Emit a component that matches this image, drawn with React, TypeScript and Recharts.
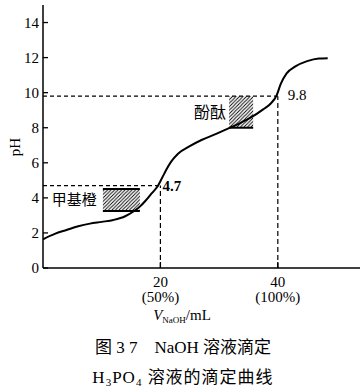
import React from 'react';
import {
  ComposedChart,
  Line,
  XAxis,
  YAxis,
  ReferenceLine,
  ReferenceArea,
  ReferenceDot,
} from 'recharts';

// NaOH volume (mL) and pH along the titration curve
const volumes = [0, 2, 4, 6, 8, 10, 12, 14, 15.4, 16.5, 17.5, 18.5, 19.5, 20.3, 21, 21.8, 23, 25, 27, 29.5, 31.5, 33.5, 35.5, 37.5, 38.8, 39.8, 40.5, 41.5, 43, 45, 47, 48.5];
const phValues = [1.64, 1.95, 2.17, 2.38, 2.53, 2.63, 2.74, 2.95, 3.22, 3.5, 3.85, 4.25, 4.65, 5.15, 5.6, 6.05, 6.52, 6.95, 7.3, 7.65, 7.95, 8.25, 8.6, 9.05, 9.38, 9.85, 10.5, 11.1, 11.5, 11.8, 11.95, 11.97];

// equivalence points
const eqVolumes = [20, 40];
const eqPH = [4.7, 9.8];
const eqLabels = ['4.7', '9.8'];

// indicator ranges
const indicatorNames = ['甲基橙', '酚酞'];
const indicatorV1 = [10.2, 31.7];
const indicatorV2 = [16.5, 35.8];
const indicatorPHLow = [3.25, 8.0];
const indicatorPHHigh = [4.5, 9.8];

const xTicks = [20, 40];
const xTickNotes = ['(50%)', '(100%)'];
const yTicks = [0, 2, 4, 6, 8, 10, 12, 14];

const data = volumes.map((v, i) => ({ v, ph: phValues[i] }));

const SERIF = '"Liberation Serif", "Times New Roman", serif';
const CJK = '"Liberation Serif", "Noto Sans CJK SC", serif';

const YTick = (props: any) => {
  const { x, y, payload } = props;
  return (
    <g>
      <line x1={x} x2={x + 5} y1={y} y2={y} stroke="#000" strokeWidth={1.3} />
      <text x={x - 4} y={y + 5} textAnchor="end" fontFamily={SERIF} fontSize={15} fill="#000">
        {payload.value}
      </text>
    </g>
  );
};

const XTick = (props: any) => {
  const { x, y, payload } = props;
  const i = xTicks.indexOf(payload.value);
  return (
    <g>
      <line x1={x} x2={x} y1={y} y2={y - 6} stroke="#000" strokeWidth={1.3} />
      <text x={x} y={y + 19} textAnchor="middle" fontFamily={SERIF} fontSize={15} fill="#000">
        {payload.value}
      </text>
      <text x={x} y={y + 34} textAnchor="middle" fontFamily={SERIF} fontSize={15} fill="#000">
        {xTickNotes[i]}
      </text>
    </g>
  );
};

const eqOffsets = [
  { dx: 2, dy: 5 },
  { dx: 10, dy: 4 },
];

export default function App() {
  return (
    <div style={{ position: 'absolute', left: 0, top: 0, background: '#fff' }}>
      <ComposedChart
        width={364}
        height={388}
        data={data}
        margin={{ top: 5, right: 4, bottom: 90, left: 0 }}
      >
        <defs>
          <pattern id="hatch" patternUnits="userSpaceOnUse" width={3.5} height={3.5}>
            <path d="M-1,1 l2,-2 M0,3.5 l3.5,-3.5 M2.5,4.5 l2,-2" stroke="#000" strokeWidth={0.9} />
          </pattern>
        </defs>
        <XAxis
          dataKey="v"
          type="number"
          domain={[0, 54]}
          ticks={xTicks}
          tick={<XTick />}
          tickSize={0}
          tickMargin={0}
          tickLine={false}
          axisLine={{ stroke: '#000', strokeWidth: 1.5 }}
          height={30}
          allowDataOverflow
        />
        <YAxis
          type="number"
          domain={[0, 15]}
          ticks={yTicks}
          tick={<YTick />}
          tickSize={0}
          tickMargin={0}
          tickLine={false}
          axisLine={{ stroke: '#000', strokeWidth: 1.5 }}
          width={43}
          interval={0}
          allowDataOverflow
        />

        {indicatorNames.map((name, i) => (
          <ReferenceArea
            key={name}
            x1={indicatorV1[i]}
            x2={indicatorV2[i]}
            y1={indicatorPHLow[i]}
            y2={indicatorPHHigh[i]}
            fill="url(#hatch)"
            fillOpacity={1}
            stroke="none"
            label={{
              value: name,
              position: 'left',
              offset: i === 0 ? 6 : 3,
              fontFamily: '"Noto Sans CJK SC", sans-serif',
              fontSize: i === 0 ? 15 : 16,
              fill: '#000',
            }}
          />
        ))}
        {/* solid edges of the indicator boxes */}
        <ReferenceLine
          segment={[{ x: indicatorV1[0], y: indicatorPHHigh[0] }, { x: indicatorV2[0], y: indicatorPHHigh[0] }]}
          stroke="#000"
          strokeWidth={2}
        />
        <ReferenceLine
          segment={[{ x: indicatorV1[0], y: indicatorPHLow[0] }, { x: indicatorV2[0], y: indicatorPHLow[0] }]}
          stroke="#000"
          strokeWidth={2}
        />
        <ReferenceLine
          segment={[{ x: indicatorV1[1], y: indicatorPHLow[1] }, { x: indicatorV2[1], y: indicatorPHLow[1] }]}
          stroke="#000"
          strokeWidth={2}
        />

        {eqVolumes.map((v, i) => (
          <ReferenceLine
            key={'h' + i}
            segment={[{ x: 0, y: eqPH[i] }, { x: v, y: eqPH[i] }]}
            stroke="#000"
            strokeWidth={1.2}
            strokeDasharray="4 3"
          />
        ))}
        {eqVolumes.map((v, i) => (
          <ReferenceLine
            key={'v' + i}
            segment={[{ x: v, y: 0 }, { x: v, y: eqPH[i] }]}
            stroke="#000"
            strokeWidth={1.2}
            strokeDasharray="5 3"
          />
        ))}

        <Line
          dataKey="ph"
          type="monotone"
          stroke="#000"
          strokeWidth={2}
          dot={false}
          isAnimationActive={false}
        />

        {eqVolumes.map((v, i) => (
          <ReferenceDot
            key={'d' + i}
            x={v}
            y={eqPH[i]}
            r={0}
            fill="none"
            stroke="none"
            label={(p: any) => {
              const vb = p.viewBox || {};
              return (
                <text
                  x={(vb.x ?? 0) + eqOffsets[i].dx}
                  y={(vb.y ?? 0) + eqOffsets[i].dy}
                  fontFamily={SERIF}
                  fontSize={15}
                  fontWeight={i === 0 ? 'bold' : 'normal'}
                  fill="#000"
                >
                  {eqLabels[i]}
                </text>
              );
            }}
          />
        ))}

        <text
          x={15}
          y={147}
          transform="rotate(-90, 15, 147)"
          textAnchor="middle"
          dominantBaseline="central"
          fontFamily={SERIF}
          fontSize={15}
          fill="#000"
        >
          pH
        </text>
        <text x={182} y={320} textAnchor="middle" fontFamily={SERIF} fontSize={15} fill="#000">
          <tspan fontStyle="italic">V</tspan>
          <tspan fontSize={9} dy={3}>NaOH</tspan>
          <tspan dy={-3}>/mL</tspan>
        </text>
        <text x={183} y={353} textAnchor="middle" fontFamily={CJK} fontSize={17} fill="#000">
          图 3 7{'\u2003'}NaOH 溶液滴定
        </text>
        <text x={183} y={383} textAnchor="middle" fontFamily={CJK} fontSize={17} fill="#000" letterSpacing={1}>
          H<tspan fontSize={11} dy={3}>3</tspan>
          <tspan dy={-3}>PO</tspan>
          <tspan fontSize={11} dy={3}>4</tspan>
          <tspan dy={-3}> 溶液的滴定曲线</tspan>
        </text>
      </ComposedChart>
    </div>
  );
}
